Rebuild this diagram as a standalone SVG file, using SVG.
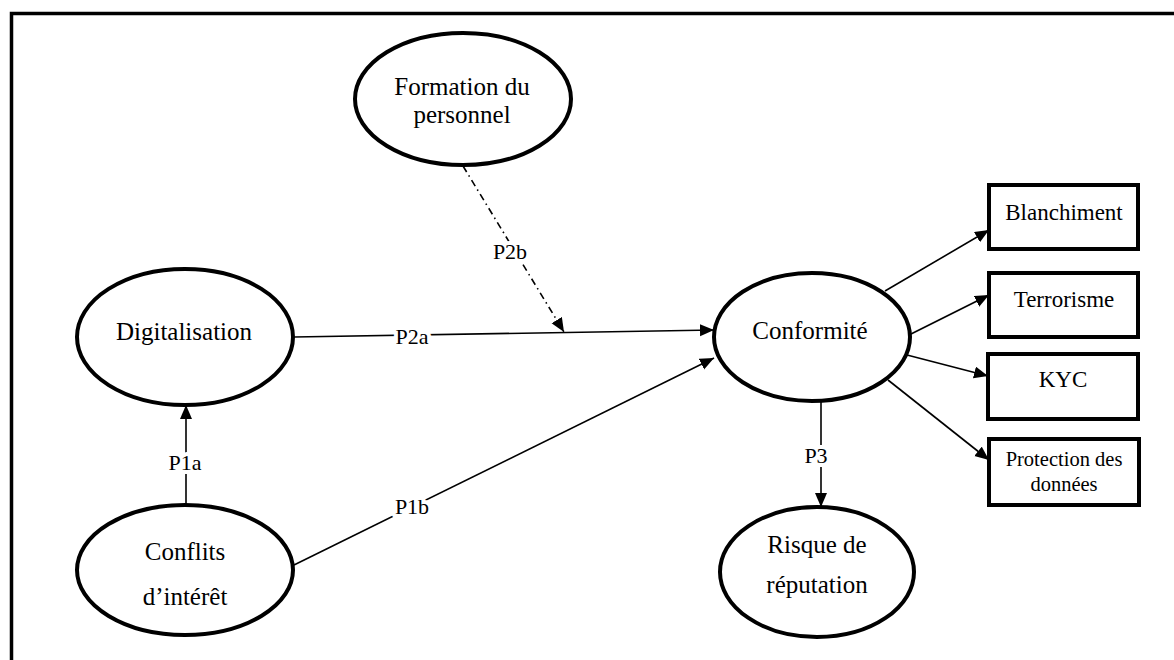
<svg xmlns="http://www.w3.org/2000/svg" width="1174" height="660" viewBox="0 0 1174 660">
<style>
.node{fill:#fff;stroke:#000;stroke-width:4}
.t{font-family:'Liberation Serif','Times New Roman','DejaVu Serif',serif;fill:#000;text-anchor:middle}
.big{font-size:25px}
.box{font-size:23px}
.small{font-size:20.5px}
.lbl{font-family:'Liberation Serif','Times New Roman','DejaVu Serif',serif;font-size:22px;fill:#000;text-anchor:middle;stroke:#fff;stroke-width:8;paint-order:stroke;stroke-linejoin:round}
.c{fill:none;stroke:#000;stroke-width:1.6}
.dd{stroke-dasharray:7 4 1.5 4}
</style>
<defs>
<marker id="ah" markerUnits="userSpaceOnUse" markerWidth="16" markerHeight="14" refX="14" refY="6" orient="auto">
<path d="M0,0 L14,6 L0,12 Z" fill="#000"/>
</marker>
</defs>
<rect width="1174" height="660" fill="#fff"/>
<g id="frame">
<path d="M11.5,660 V13.5 H1174" fill="none" stroke="#000" stroke-width="3.5"/>
</g>
<g id="connectors">
<line class="c" x1="186" y1="505" x2="186" y2="405" marker-end="url(#ah)"/>
<line class="c" x1="294" y1="337" x2="714" y2="330" marker-end="url(#ah)"/>
<line class="c" x1="294" y1="565" x2="714" y2="358" marker-end="url(#ah)"/>
<line class="c dd" x1="463" y1="166" x2="564" y2="332" marker-end="url(#ah)"/>
<line class="c" x1="821" y1="402" x2="821" y2="507" marker-end="url(#ah)"/>
<line class="c" x1="885" y1="291" x2="989" y2="230" marker-end="url(#ah)"/>
<line class="c" x1="909" y1="335" x2="989" y2="295" marker-end="url(#ah)"/>
<line class="c" x1="907" y1="355" x2="988" y2="376" marker-end="url(#ah)"/>
<line class="c" x1="888" y1="380" x2="989" y2="460" marker-end="url(#ah)"/>
<text class="lbl" x="185" y="470">P1a</text>
<text class="lbl" x="412" y="344">P2a</text>
<text class="lbl" x="510" y="259">P2b</text>
<text class="lbl" x="412" y="514">P1b</text>
<text class="lbl" x="816" y="463">P3</text>
</g>
<g id="formation">
<ellipse class="node" cx="463" cy="99" rx="108" ry="66"/>
<text class="t big" x="462" y="95">Formation du</text>
<text class="t big" x="462" y="123">personnel</text>
</g>
<g id="digitalisation">
<ellipse class="node" cx="185" cy="337" rx="108" ry="68"/>
<text class="t big" x="184" y="340">Digitalisation</text>
</g>
<g id="conflits">
<ellipse class="node" cx="185" cy="570" rx="108" ry="65"/>
<text class="t big" x="185" y="560">Conflits</text>
<text class="t big" x="185" y="605">d’intérêt</text>
</g>
<g id="conformite">
<ellipse class="node" cx="812" cy="337" rx="98" ry="64"/>
<text class="t big" x="810" y="339">Conformité</text>
</g>
<g id="risque">
<ellipse class="node" cx="817" cy="572" rx="97" ry="65"/>
<text class="t big" x="817" y="553">Risque de</text>
<text class="t big" x="817" y="593">réputation</text>
</g>
<g id="blanchiment">
<rect class="node" x="989" y="185" width="149" height="64"/>
<text class="t box" x="1064" y="220">Blanchiment</text>
</g>
<g id="terrorisme">
<rect class="node" x="989" y="273" width="149" height="64"/>
<text class="t box" x="1064" y="307">Terrorisme</text>
</g>
<g id="kyc">
<rect class="node" x="988" y="354" width="150" height="65"/>
<text class="t box" x="1063" y="387">KYC</text>
</g>
<g id="protection">
<rect class="node" x="989" y="439" width="150" height="66"/>
<text class="t small" x="1064" y="466">Protection des</text>
<text class="t small" x="1064" y="491">données</text>
</g>
</svg>
